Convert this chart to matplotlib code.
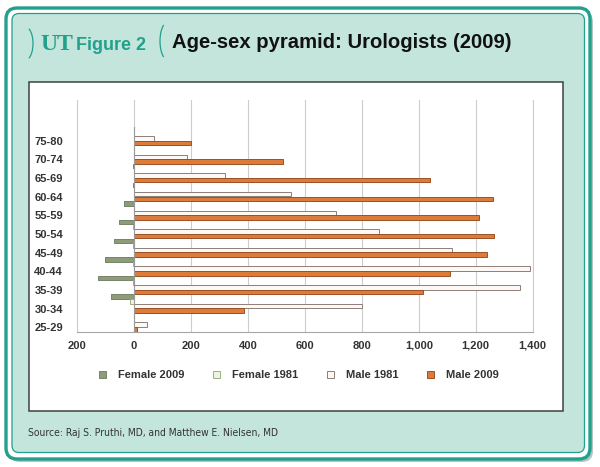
import matplotlib
matplotlib.use("Agg")
import matplotlib.pyplot as plt
import numpy as np
from matplotlib.patches import FancyBboxPatch, Rectangle, Arc
from matplotlib.transforms import Affine2D, ScaledTranslation

# --- data (bottom to top) ---
ages = ["25-29", "30-34", "35-39", "40-44", "45-49", "50-54",
        "55-59", "60-64", "65-69", "70-74", "75-80"]
female_2009 = [-1, -80, -126, -100, -71, -53, -35, -5, -2, -1, -1]
female_1981 = [0, -14, -3, -2, -2, -2, -1, -1, -1, -1, -1]
male_1981 = [45, 800, 1355, 1390, 1115, 860, 710, 550, 320, 185, 70]
male_2009 = [10, 385, 1015, 1110, 1240, 1265, 1210, 1260, 1040, 525, 200]
xticks = [-200, 0, 200, 400, 600, 800, 1000, 1200, 1400]
xtick_labels = ["200", "0", "200", "400", "600", "800", "1,000", "1,200", "1,400"]

TEAL = "#22a08e"
FILL = "#c3e5dc"
SANS = ["Liberation Sans", "DejaVu Sans"]

W, H = 600, 467
fig = plt.figure(figsize=(6, 4.67), dpi=100)
fig.patch.set_facecolor("white")
# pixel coords measured from the top-left corner
pix = Affine2D().scale(1 / W, -1 / H).translate(0, 1) + fig.transFigure

# --- frame ---
shadow = FancyBboxPatch((9, 11), 584, 451, boxstyle="round,pad=0,rounding_size=11",
                        transform=pix, facecolor="#b8c4c0", edgecolor="none")
outer = FancyBboxPatch((6, 8), 584, 451, boxstyle="round,pad=0,rounding_size=11",
                       transform=pix, facecolor="white", edgecolor=TEAL, linewidth=2.4)
inner = FancyBboxPatch((12, 13.5), 572.5, 439, boxstyle="round,pad=0,rounding_size=7",
                       transform=pix, facecolor=FILL, edgecolor=TEAL, linewidth=0.9)
box = Rectangle((29, 82), 534, 329, transform=pix, facecolor="white",
                edgecolor="#404040", linewidth=1.1)
for p in [shadow, outer, inner, box]:
    fig.patches.append(p)

# --- title ---
fig.patches.append(Arc((25, 43.5), 16, 34, theta1=-75, theta2=75, transform=pix,
                       color=TEAL, linewidth=0.9))
fig.patches.append(Arc((168, 41), 16, 38, theta1=105, theta2=255, transform=pix,
                       color=TEAL, linewidth=0.9))
fig.text(40, 45, "UT", transform=pix, family="Liberation Serif", fontsize=17,
         weight="bold", color=TEAL, va="center", ha="left")
fig.text(76, 46, "Figure 2", transform=pix, family=SANS, fontsize=13,
         weight="bold", color=TEAL, va="center", ha="left")
fig.text(172, 42, "Age-sex pyramid: Urologists (2009)", transform=pix,
         family=SANS, fontsize=14.6, weight="bold", color="#111111",
         va="center", ha="left")
fig.text(28, 433, "Source: Raj S. Pruthi, MD, and Matthew E. Nielsen, MD", transform=pix,
         family="DejaVu Sans", stretch="condensed", fontsize=7.4, color="#333333",
         va="center", ha="left")

# --- chart ---
left, right, top, bottom = 77, 532.7, 100, 331.7
ax = fig.add_axes([left / W, 1 - bottom / H, (right - left) / W, (bottom - top) / H])
ax.set_zorder(5)
y = np.arange(len(ages))
h = 0.245
ax.barh(y + 0.375, female_2009, height=h, color="#8d9b79", edgecolor="#76846a",
        linewidth=0.7, label="Female 2009")
ax.barh(y + 0.125, female_1981, height=h, color="#eef3e4", edgecolor="#9bb07f",
        linewidth=0.7, label="Female 1981")
ax.barh(y - 0.125, male_1981, height=h, color="#fdf8f4", edgecolor="#8c7f79",
        linewidth=0.7, label="Male 1981")
ax.barh(y - 0.375, male_2009, height=h, color="#dd7b3b", edgecolor="#9c5126",
        linewidth=0.7, label="Male 2009")
ax.plot([0, 0], [-0.5, len(ages) - 0.5], color="#9a9a9a", linewidth=0.8, zorder=3)

ax.set_xlim(-200, 1400)
ax.set_ylim(-0.5, len(ages) - 0.5 + (126.5 - top) / 18.6)
ax.set_xticks(xticks)
ax.set_xticklabels(xtick_labels)
ax.set_yticks(y)
ax.set_yticklabels(ages)
ax.grid(axis="x", color="#cccccc", linewidth=0.8)
ax.set_axisbelow(True)
ax.spines["top"].set_visible(False)
for s in ["left", "right"]:
    ax.spines[s].set_color("#cccccc")
    ax.spines[s].set_linewidth(0.8)
ax.spines["bottom"].set_color("#a6a6a6")
ax.spines["bottom"].set_linewidth(0.8)
ax.tick_params(axis="x", length=0, pad=6.5)
ax.tick_params(axis="y", length=0, pad=10)
for lab in ax.get_xticklabels() + ax.get_yticklabels():
    lab.set_family(SANS)
    lab.set_fontsize(8)
    lab.set_fontweight("bold")
    lab.set_color("#333333")
shift = ScaledTranslation(0, -3.5 / 72, fig.dpi_scale_trans)
for lab in ax.get_yticklabels():
    lab.set_transform(lab.get_transform() + shift)

leg = ax.legend(loc="center left", bbox_to_anchor=(99 / W, 1 - 375 / H),
                bbox_transform=fig.transFigure, ncol=4, frameon=False,
                handlelength=0.6, handleheight=0.6, handletextpad=1.1,
                columnspacing=2.6, borderpad=0, borderaxespad=0,
                prop={"family": SANS, "size": 8, "weight": "bold"})
for t in leg.get_texts():
    t.set_color("#333333")

fig.savefig("out.png", dpi=100)
